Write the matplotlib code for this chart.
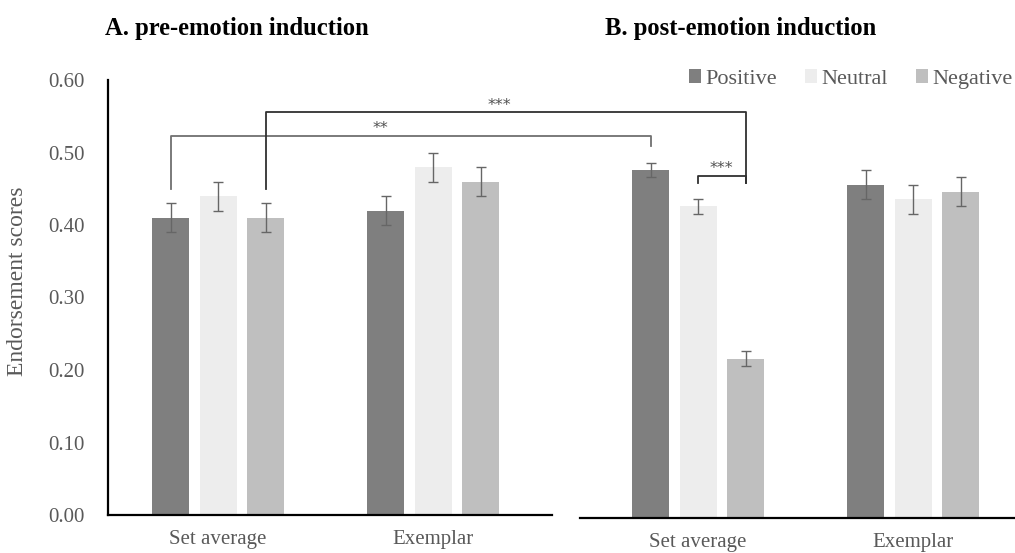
import numpy as np
import matplotlib
matplotlib.use('Agg')
import matplotlib.pyplot as plt
from matplotlib.lines import Line2D
from matplotlib.patches import Patch

plt.rcParams['font.family'] = ['Liberation Serif', 'DejaVu Serif']

# ==== data ====
categories = ['Set average', 'Exemplar']
emotions = ['Positive', 'Neutral', 'Negative']
colors = ['#7f7f7f', '#ededed', '#bfbfbf']

pre_means = {'Positive': [0.41, 0.42], 'Neutral': [0.44, 0.48], 'Negative': [0.41, 0.46]}
pre_err = {'Positive': [0.02, 0.02], 'Neutral': [0.02, 0.02], 'Negative': [0.02, 0.02]}
post_means = {'Positive': [0.48, 0.46], 'Neutral': [0.43, 0.44], 'Negative': [0.22, 0.45]}
post_err = {'Positive': [0.01, 0.02], 'Neutral': [0.01, 0.02], 'Negative': [0.01, 0.02]}

yticks = [0.0, 0.1, 0.2, 0.3, 0.4, 0.5, 0.6]

W, H = 1015, 553
fig = plt.figure(figsize=(W / 100, H / 100), dpi=100)

def px_axes(x0, x1, ytop, ybot):
    return fig.add_axes([x0 / W, 1 - ybot / H, (x1 - x0) / W, (ybot - ytop) / H])

ax1 = px_axes(108, 552, 80, 515)
ax2 = px_axes(580, 1015, 83, 518)

offsets = [-0.221, 0.0, 0.221]
bw = 0.172
tick_gray = '#595959'
err_gray = '#666666'
x = np.arange(len(categories))

for ax, means, errs, xl in [(ax1, pre_means, pre_err, (-0.512, 1.553)),
                            (ax2, post_means, post_err, (-0.549, 1.474))]:
    for emo, off, col in zip(emotions, offsets, colors):
        ax.bar(x + off, means[emo], bw, color=col, yerr=errs[emo],
               error_kw=dict(ecolor=err_gray, elinewidth=1.0, capsize=3.5, capthick=1.0))
    ax.set_xlim(*xl)
    ax.set_ylim(0, 0.6)
    ax.set_xticks(x)
    ax.set_xticklabels(categories, fontsize=15, color=tick_gray)
    ax.tick_params(axis='x', length=0, pad=11)
    for s in ['top', 'right']:
        ax.spines[s].set_visible(False)
    ax.spines['bottom'].set_linewidth(1.6)
    ax.spines['bottom'].set_color('black')

ax1.set_yticks(yticks)
ax1.set_yticklabels([f'{v:.2f}' for v in yticks], fontsize=15, color=tick_gray)
ax1.tick_params(axis='y', length=0, pad=16.5)
ax1.spines['left'].set_linewidth(1.6)
ax1.set_ylabel('Endorsement scores', fontsize=17, color=tick_gray)
ax1.yaxis.set_label_coords(-0.18, 0.538)

ax2.spines['left'].set_visible(False)
ax2.set_yticks([])

# titles
fig.text(105 / W, 1 - 35 / H, 'A. pre-emotion induction', fontsize=17.7, fontweight='bold', va='baseline')
fig.text(605 / W, 1 - 35 / H, 'B. post-emotion induction', fontsize=17.7, fontweight='bold', va='baseline')

# legend
handles = [Patch(facecolor=c, edgecolor='none') for c in colors]
fig.legend(handles, emotions, loc='center right', bbox_to_anchor=(1013 / W, 1 - 79 / H),
           ncol=3, frameon=False, fontsize=16, handlelength=0.55, handleheight=0.55,
           handletextpad=0.2, columnspacing=1.25, labelcolor=tick_gray,
           borderpad=0, borderaxespad=0)

# significance brackets (drawn from data coords of both panels)
inv = fig.transFigure.inverted()

def fpt(ax, xd, yd):
    return inv.transform(ax.transData.transform((xd, yd)))

def poly(points, color, lw=1.3):
    pts = np.array(points)
    fig.add_artist(Line2D(pts[:, 0], pts[:, 1], transform=fig.transFigure,
                          color=color, linewidth=lw))

star_kw = dict(fontsize=11.5, color='#505050', ha='center', va='center', family='DejaVu Sans')

# ** : pre Set avg Positive vs post Set avg Positive
a = fpt(ax1, offsets[0], 0.45)
b = fpt(ax1, offsets[0], 0.523)
c = fpt(ax2, offsets[0], 0.523)
c[1] = b[1]
d = fpt(ax2, offsets[0], 0.513)
poly([a, b, c, d], '#707070')
m = fpt(ax1, 0.755, 0.533)
fig.text(m[0], m[1], '**', **star_kw)

# *** : pre Set avg Negative vs post Set avg Negative
a = fpt(ax1, offsets[2], 0.45)
b = fpt(ax1, offsets[2], 0.556)
c = fpt(ax2, offsets[2], 0.556)
c[1] = b[1]
d = fpt(ax2, offsets[2], 0.462)
poly([a, b, c, d], '#303030')
m = fpt(ax1, 1.31, 0.565)
fig.text(m[0], m[1], '***', **star_kw)

# *** : post Set avg Neutral vs Negative
a = fpt(ax2, offsets[1], 0.462)
b = fpt(ax2, offsets[1], 0.472)
c = fpt(ax2, offsets[2], 0.472)
d = fpt(ax2, offsets[2], 0.462)
poly([a, b, c, d], '#303030')
m = fpt(ax2, (offsets[1] + offsets[2]) / 2, 0.482)
fig.text(m[0], m[1], '***', **star_kw)

fig.savefig('out.png', dpi=100)
